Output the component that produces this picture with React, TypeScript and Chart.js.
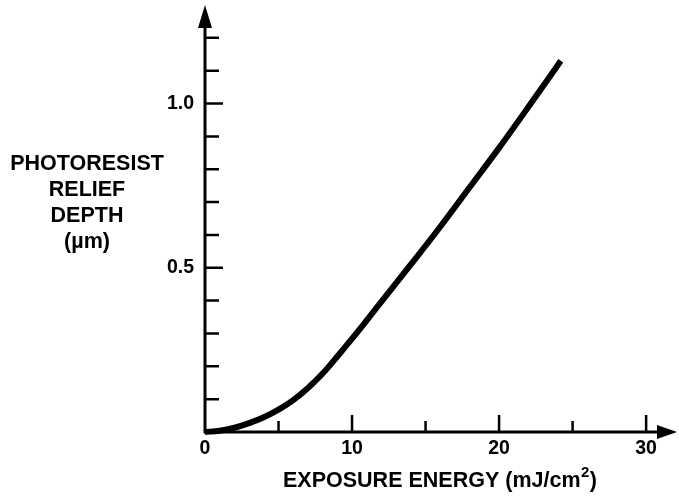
import React, { useEffect, useRef } from "react";
import { Chart, registerables } from "chart.js";

Chart.register(...registerables);

// ---- data ----
const energy = [0, 1, 2, 3, 4, 5, 6, 7, 8, 9, 10, 11, 12, 14, 16, 18, 20, 22, 24.2];
const depth = [0, 0.004, 0.013, 0.027, 0.045, 0.068, 0.097, 0.134, 0.178, 0.23, 0.284, 0.34, 0.397, 0.51, 0.625, 0.745, 0.865, 0.99, 1.13];

const xTickLabels = [0, 10, 20, 30];
const xTickMarks = [5, 10, 15, 20, 25, 30];
const xMajorMarks = [10, 20, 30];
const yTickLabels = [0.5, 1.0];
const yTickMarks = [0.1, 0.2, 0.3, 0.4, 0.5, 0.6, 0.7, 0.8, 0.9, 1.0, 1.1, 1.2];

const yTitleLines = ["PHOTORESIST", "RELIEF", "DEPTH", "(\u00b5m)"];
const xTitleMain = "EXPOSURE ENERGY (mJ/cm";
const xTitleSup = "2";
const xTitleEnd = ")";

const FONT = '"Liberation Sans", Arial, Helvetica, sans-serif';
const INK = "#000";

const decorPlugin = {
  id: "decor",
  beforeDatasetsDraw(chart: any) {
    const ctx = chart.ctx;
    const xs = chart.scales.x;
    const ys = chart.scales.y;
    const area = chart.chartArea;
    const x0 = xs.getPixelForValue(0);
    const y0 = ys.getPixelForValue(0);
    ctx.save();
    ctx.strokeStyle = INK;
    ctx.fillStyle = INK;
    ctx.lineCap = "butt";
    // axis lines
    ctx.lineWidth = 3;
    ctx.beginPath();
    ctx.moveTo(x0, y0 + 1.5);
    ctx.lineTo(x0, area.top + 18);
    ctx.moveTo(x0 - 1.5, y0);
    ctx.lineTo(area.right - 16, y0);
    ctx.stroke();
    // arrowheads
    ctx.beginPath();
    ctx.moveTo(x0, area.top);
    ctx.lineTo(x0 - 7, area.top + 23);
    ctx.lineTo(x0 + 7, area.top + 23);
    ctx.closePath();
    ctx.fill();
    ctx.beginPath();
    ctx.moveTo(area.right, y0);
    ctx.lineTo(area.right - 20, y0 - 7);
    ctx.lineTo(area.right - 20, y0 + 7);
    ctx.closePath();
    ctx.fill();
    // y tick marks (pointing right)
    ctx.lineWidth = 2.5;
    ctx.beginPath();
    yTickMarks.forEach((v) => {
      const py = ys.getPixelForValue(v);
      const len = yTickLabels.some((t) => Math.abs(t - v) < 1e-6) ? 18 : 14;
      ctx.moveTo(x0, py);
      ctx.lineTo(x0 + len, py);
    });
    // x tick marks (pointing up)
    xTickMarks.forEach((v) => {
      const px = xs.getPixelForValue(v);
      const len = xMajorMarks.includes(v) ? 17 : 11;
      ctx.moveTo(px, y0);
      ctx.lineTo(px, y0 - len);
    });
    ctx.stroke();

    // y title (horizontal, stacked lines)
    ctx.font = `bold 21.5px ${FONT}`;
    ctx.textAlign = "center";
    ctx.textBaseline = "alphabetic";
    yTitleLines.forEach((line, i) => {
      ctx.fillText(line, 87, 170 + i * 26);
    });

    // x title with superscript
    const mainFont = `bold 21.5px ${FONT}`;
    const supFont = `bold 15px ${FONT}`;
    ctx.font = mainFont;
    const wMain = ctx.measureText(xTitleMain).width;
    const wEnd = ctx.measureText(xTitleEnd).width;
    ctx.font = supFont;
    const wSup = ctx.measureText(xTitleSup).width;
    const total = wMain + wSup + 1 + wEnd;
    let tx = 440 - total / 2;
    const base = 487;
    ctx.textAlign = "left";
    ctx.font = mainFont;
    ctx.fillText(xTitleMain, tx, base);
    tx += wMain;
    ctx.font = supFont;
    ctx.fillText(xTitleSup, tx + 0.5, base - 10);
    tx += wSup + 1;
    ctx.font = mainFont;
    ctx.fillText(xTitleEnd, tx, base);
    ctx.restore();
  },
};

export default function App() {
  const canvasRef = useRef<HTMLCanvasElement | null>(null);

  useEffect(() => {
    if (!canvasRef.current) return;
    const chart = new Chart(canvasRef.current, {
      type: "line",
      data: {
        datasets: [
          {
            data: energy.map((e, i) => ({ x: e, y: depth[i] })),
            borderColor: INK,
            borderWidth: 6,
            pointRadius: 0,
            fill: false,
            cubicInterpolationMode: "monotone",
            borderCapStyle: "butt",
            clip: false,
          } as any,
        ],
      },
      options: {
        animation: false,
        responsive: true,
        maintainAspectRatio: false,
        layout: { padding: { top: 5, right: 2, left: 0, bottom: 0 } },
        plugins: {
          legend: { display: false },
          tooltip: { enabled: false },
        },
        scales: {
          x: {
            type: "linear",
            min: 0,
            max: 32.1,
            grid: { display: false, drawTicks: false },
            border: { display: false },
            ticks: {
              color: INK,
              font: { family: FONT, size: 19.5, weight: "bold" },
              padding: 5,
              maxRotation: 0,
              autoSkip: false,
              callback: (v: any) => String(v),
            },
            afterBuildTicks: (s: any) => {
              s.ticks = xTickLabels.map((v) => ({ value: v }));
            },
            afterFit: (s: any) => {
              s.height = 66;
              s.paddingLeft = 0;
              s.paddingRight = 0;
              s.paddingTop = 0;
              s.paddingBottom = 0;
            },
          },
          y: {
            type: "linear",
            min: 0,
            max: 1.3,
            grid: { display: false, drawTicks: false },
            border: { display: false },
            ticks: {
              color: INK,
              font: { family: FONT, size: 19.5, weight: "bold" },
              padding: 11,
              autoSkip: false,
              callback: (v: any) => Number(v).toFixed(1),
            },
            afterBuildTicks: (s: any) => {
              s.ticks = yTickLabels.map((v) => ({ value: v }));
            },
            afterFit: (s: any) => {
              s.width = 205;
              s.paddingLeft = 0;
              s.paddingRight = 0;
              s.paddingTop = 0;
              s.paddingBottom = 0;
            },
          },
        },
      },
      plugins: [decorPlugin],
    });
    return () => chart.destroy();
  }, []);

  return (
    <div style={{ position: "absolute", left: 0, top: 0, width: 679, height: 498, background: "#fff" }}>
      <canvas ref={canvasRef} />
    </div>
  );
}
